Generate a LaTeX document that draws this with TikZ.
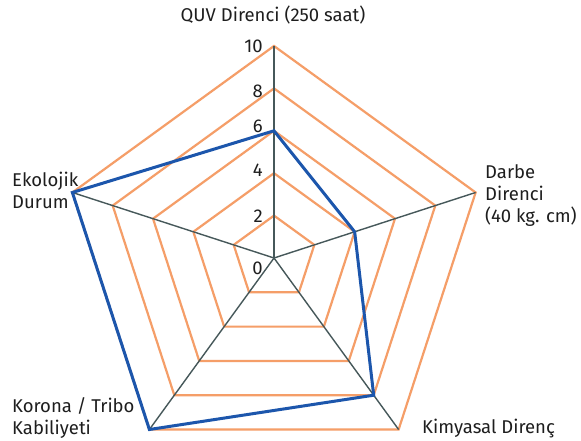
\documentclass[tikz,border=0pt]{standalone}
\usepackage{fontspec}
\setmainfont{Fira Sans}
\usetikzlibrary{calc}
\definecolor{ringc}{RGB}{245,158,104}
\definecolor{axisc}{RGB}{70,88,90}
\definecolor{datac}{RGB}{28,86,172}
\definecolor{textc}{RGB}{30,30,30}
\begin{document}
\begin{tikzpicture}[x=1bp,y=1bp,
  ring/.style={draw=ringc,line width=2.2bp,line join=miter},
  axisline/.style={draw=axisc,line width=1.4bp},
  dataline/.style={draw=datac,line width=3bp,line join=miter},
  lab/.style={inner sep=0pt,font=\fontsize{18.5bp}{22bp}\selectfont,text=textc},
  tick/.style={inner sep=0pt,anchor=east,font=\fontsize{18.5bp}{22bp}\selectfont,text=textc}]
\useasboundingbox (0,0) rectangle (581,441);
\fill[white] (0,0) rectangle (581,441);
\coordinate (c) at (274,183);
\foreach \k in {1,...,5}{
  \draw[ring] ($(c)+(90:42.4*\k)$) -- ($(c)+(18:42.4*\k)$) -- ($(c)+(-54:42.4*\k)$) -- ($(c)+(-126:42.4*\k)$) -- ($(c)+(162:42.4*\k)$) -- cycle;
}
\foreach \a/\n in {90/a,18/b,-54/d,-126/e,162/f}{
  \coordinate (v\n) at ($(c)+(\a:212)$);
  \draw[axisline] (c) -- (v\n);
}
\coordinate (pa) at ($(c)+(90:127.2)$);
\coordinate (pb) at ($(c)+(18:84.8)$);
\coordinate (pd) at ($(c)+(-54:169.6)$);
\coordinate (pe) at ($(c)+(-126:212)$);
\coordinate (pf) at ($(c)+(162:212)$);
\draw[dataline] (pa) -- (pb) -- (pd) -- (pe) -- (pf) -- cycle;
\node[tick] (t10) at (263,395) {10};
\node[tick] (t8) at (263,350) {8};
\node[tick] (t6) at (263,315) {6};
\node[tick] (t4) at (263,271) {4};
\node[tick] (t2) at (263,225) {2};
\node[tick] (t0) at (263,173) {0};
\node[lab,anchor=base] (title) at (273,419) {QUV Direnci (250 saat)};
\node[lab,anchor=north west,align=left] (darbe) at (485,277) {Darbe\\Direnci\\(40 kg. cm)};
\node[lab,anchor=north west,align=left] (eko) at (12,269) {Ekolojik\\Durum};
\node[lab,anchor=north west,align=left] (kor) at (12,44) {Korona / Tribo\\Kabiliyeti};
\node[lab,anchor=north west] (kim) at (422,22) {Kimyasal Direnç};
\end{tikzpicture}
\end{document}
